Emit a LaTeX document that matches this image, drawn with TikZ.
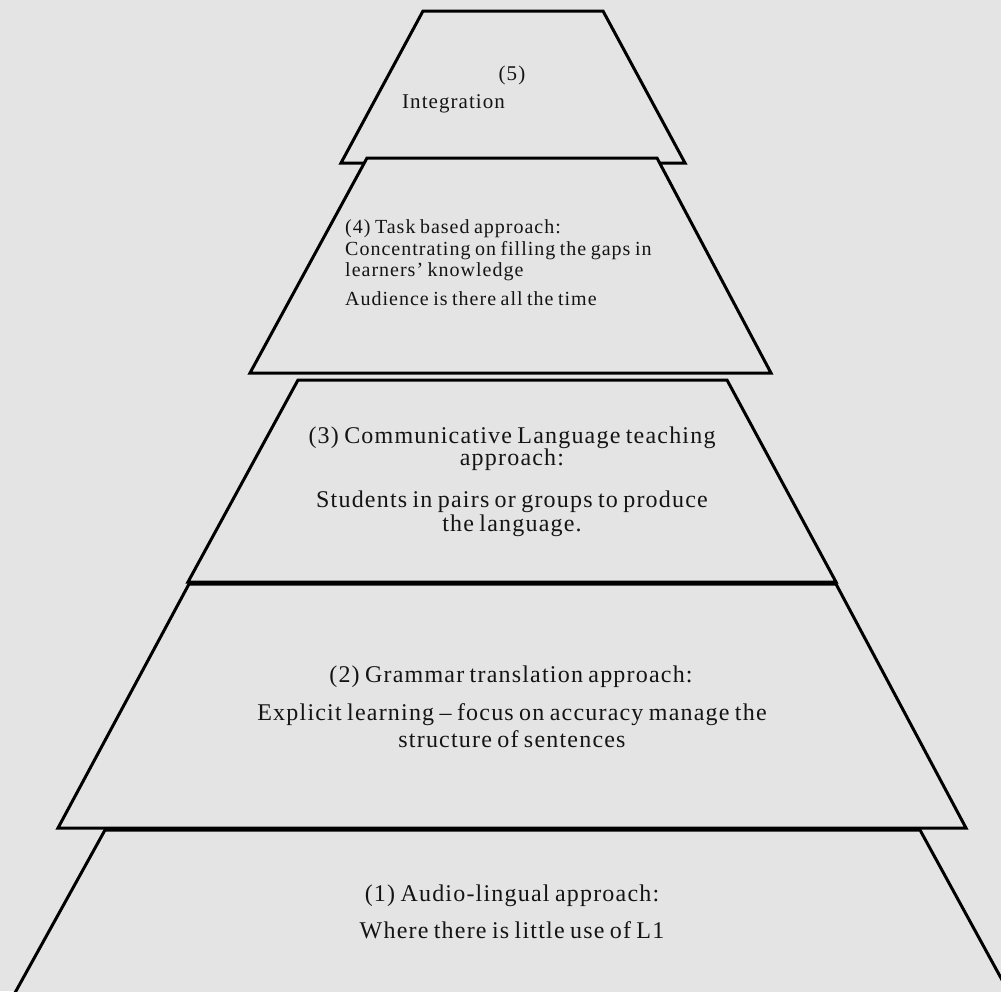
\documentclass[tikz,border=0pt]{standalone}
\usepackage{fontspec}
\setmainfont{Liberation Serif}[LetterSpace=5,WordSpace=0.75]
\definecolor{bg}{RGB}{228,228,228}
\definecolor{txt}{RGB}{20,20,20}
\newcommand\fsz[1]{\fontsize{#1}{#1}\selectfont}
\begin{document}
\begin{tikzpicture}[x=1pt,y=-1pt,
  tier/.style={fill=bg,draw=black,line width=3pt,line join=miter},
  lbl/.style={inner sep=0pt,text=txt}]
\useasboundingbox (0,0) rectangle (1001,991);
\fill[bg] (0,0) rectangle (1001,991);
\begin{scope}
\clip (0,0) rectangle (1001,991);
\draw[tier] (423,11) -- (603,11) -- (685,163) -- (341,163) -- cycle;
\draw[tier] (367,158) -- (657,158) -- (771,373) -- (250,373) -- cycle;
\draw[tier] (298,380) -- (727,380) -- (836,582) -- (188,582) -- cycle;
\draw[tier] (189,584) -- (836,584) -- (966,828) -- (58,828) -- cycle;
\draw[tier] (105,830) -- (920,830) -- (1013,1000) -- (11,1000) -- cycle;
\end{scope}
% tier 5
\node[lbl,anchor=base,font=\fsz{21}] (t5a) at (512,80) {(5)};
\node[lbl,anchor=base west,font=\fsz{21}] (t5b) at (402,108) {Integration};
% tier 4
\node[lbl,anchor=base west,font=\fsz{20}] (t4a) at (345,233) {(4) Task based approach:};
\node[lbl,anchor=base west,font=\fsz{20}] (t4b) at (345,255) {Concentrating on filling the gaps in};
\node[lbl,anchor=base west,font=\fsz{20}] (t4c) at (345,276) {learners’ knowledge};
\node[lbl,anchor=base west,font=\fsz{20}] (t4d) at (345,305) {Audience is there all the time};
% tier 3
\node[lbl,anchor=base,font=\fsz{24}] (t3a) at (512,443) {(3) Communicative Language teaching};
\node[lbl,anchor=base,font=\fsz{24}] (t3b) at (512,465) {approach:};
\node[lbl,anchor=base,font=\fsz{24}] (t3c) at (512,507) {Students in pairs or groups to produce};
\node[lbl,anchor=base,font=\fsz{24}] (t3d) at (512,531) {the language.};
% tier 2
\node[lbl,anchor=base,font=\fsz{24}] (t2a) at (511,682) {(2) Grammar translation approach:};
\node[lbl,anchor=base,font=\fsz{24}] (t2b) at (512,720) {Explicit learning – focus on accuracy manage the};
\node[lbl,anchor=base,font=\fsz{24}] (t2c) at (512,747) {structure of sentences};
% tier 1
\node[lbl,anchor=base,font=\fsz{24}] (t1a) at (512,901) {(1) Audio-lingual approach:};
\node[lbl,anchor=base,font=\fsz{24}] (t1b) at (512,938) {Where there is little use of L1};
\end{tikzpicture}
\end{document}
